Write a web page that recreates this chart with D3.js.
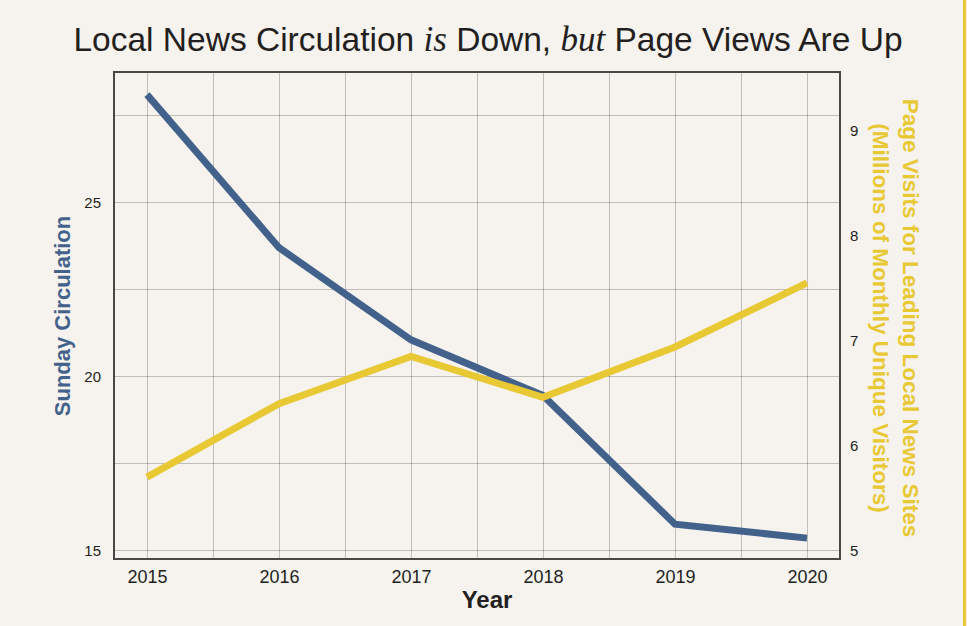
<!DOCTYPE html>
<html>
<head>
<meta charset="utf-8">
<script src="https://cdn.jsdelivr.net/npm/d3@7/dist/d3.min.js"></script>
<style>
  html, body { margin: 0; padding: 0; background: #f6f3ef; }
  svg { display: block; }
  text { font-family: "Liberation Sans", Arial, Helvetica, sans-serif; }
</style>
</head>
<body>
<svg id="chart" width="967" height="626"></svg>
<script>
// Years on the x axis
const years = [2015, 2016, 2017, 2018, 2019, 2020];
// Sunday circulation (left axis)
const circulation = [28.1, 23.7, 21.05, 19.45, 15.75, 15.35];
// Monthly unique visitors, millions (right axis)
const pageVisits = [5.70, 6.40, 6.85, 6.46, 6.94, 7.55];
// Tick labels
const leftTicks = [15, 20, 25];
const rightTicks = [5, 6, 7, 8, 9];
const hGrid = [15, 17.5, 20, 22.5, 25, 27.5];
const vGrid = [2015, 2015.5, 2016, 2016.5, 2017, 2017.5, 2018, 2018.5, 2019, 2019.5, 2020];

const BLUE = "#43628b";
const YELLOW = "#e8c833";

const svg = d3.select("#chart");
const W = 967, H = 626;
const plot = { left: 114, right: 840, top: 72, bottom: 559 };

svg.append("rect").attr("width", W).attr("height", H).attr("fill", "#f6f3ef");
// yellow rule along the right edge
svg.append("line")
  .attr("x1", 964.5).attr("x2", 964.5).attr("y1", 0).attr("y2", H)
  .attr("stroke", YELLOW).attr("stroke-width", 3);

const x = d3.scaleLinear().domain([2014.75, 2020.25]).range([plot.left, plot.right]);
const yL = d3.scaleLinear().domain([14.75, 28.75]).range([plot.bottom, plot.top]);
const yR = d3.scaleLinear().domain([4.92, 9.56]).range([plot.bottom, plot.top]);

// grid
const grid = svg.append("g").attr("stroke", "#000").attr("stroke-opacity", 0.22).attr("stroke-width", 1);
grid.selectAll(".v").data(vGrid).join("line")
  .attr("x1", d => Math.round(x(d)) + 0.5).attr("x2", d => Math.round(x(d)) + 0.5)
  .attr("y1", plot.top).attr("y2", plot.bottom);
grid.selectAll(".h").data(hGrid).join("line")
  .attr("y1", d => Math.round(yL(d)) + 0.5).attr("y2", d => Math.round(yL(d)) + 0.5)
  .attr("x1", plot.left).attr("x2", plot.right);

// frame
svg.append("rect")
  .attr("x", plot.left).attr("y", plot.top)
  .attr("width", plot.right - plot.left).attr("height", plot.bottom - plot.top)
  .attr("fill", "none").attr("stroke", "#4a4846").attr("stroke-width", 2);

// axes
const xAxis = svg.append("g").attr("transform", `translate(0,${plot.bottom})`)
  .call(d3.axisBottom(x).tickValues(years).tickFormat(d3.format("d")).tickSize(0).tickPadding(11));
const yAxisL = svg.append("g").attr("transform", `translate(${plot.left},0)`)
  .call(d3.axisLeft(yL).tickValues(leftTicks).tickFormat(d3.format("d")).tickSize(0).tickPadding(13));
const yAxisR = svg.append("g").attr("transform", `translate(${plot.right},0)`)
  .call(d3.axisRight(yR).tickValues(rightTicks).tickFormat(d3.format("d")).tickSize(0).tickPadding(10));
[xAxis, yAxisL, yAxisR].forEach(g => {
  g.select(".domain").remove();
  g.selectAll("text").attr("fill", "#231f20")
    .style("font-family", "'Liberation Sans', Arial, sans-serif");
});
xAxis.selectAll("text").style("font-size", "18px");
yAxisL.selectAll("text").style("font-size", "15px");
yAxisR.selectAll("text").style("font-size", "15px");

// lines
const lineL = d3.line().x((d, i) => x(years[i])).y(d => yL(d));
const lineR = d3.line().x((d, i) => x(years[i])).y(d => yR(d));
svg.append("path").datum(circulation).attr("d", lineL)
  .attr("fill", "none").attr("stroke", BLUE).attr("stroke-width", 7)
  .attr("stroke-linejoin", "miter");
svg.append("path").datum(pageVisits).attr("d", lineR)
  .attr("fill", "none").attr("stroke", YELLOW).attr("stroke-width", 7)
  .attr("stroke-linejoin", "miter");

// title
const title = svg.append("text").attr("x", 488).attr("y", 51)
  .attr("text-anchor", "middle").attr("fill", "#231f20")
  .style("font-size", "33.5px");
title.append("tspan").text("Local News Circulation ");
title.append("tspan").text("is").style("font-family", "'Liberation Serif', 'Times New Roman', serif").style("font-style", "italic").style("font-size", "35px");
title.append("tspan").text(" Down, ");
title.append("tspan").text("but").style("font-family", "'Liberation Serif', 'Times New Roman', serif").style("font-style", "italic").style("font-size", "35px");
title.append("tspan").text(" Page Views Are Up");

// axis titles
svg.append("text").text("Year")
  .attr("x", 487).attr("y", 608).attr("text-anchor", "middle")
  .attr("fill", "#231f20").style("font-size", "24px").style("font-weight", "bold");

svg.append("text").text("Sunday Circulation")
  .attr("transform", "translate(70,316) rotate(-90)").attr("text-anchor", "middle")
  .attr("fill", BLUE).style("font-size", "22px").style("font-weight", "bold");

const rt = svg.append("text")
  .attr("transform", "translate(903,318) rotate(90)").attr("text-anchor", "middle")
  .attr("fill", YELLOW).style("font-size", "22.5px").style("font-weight", "bold");
rt.append("tspan").attr("x", 0).attr("y", 0).text("Page Visits for Leading Local News Sites");
rt.append("tspan").attr("x", 0).attr("y", 30).text("(Millions of Monthly Unique Visitors)");
</script>
</body>
</html>
